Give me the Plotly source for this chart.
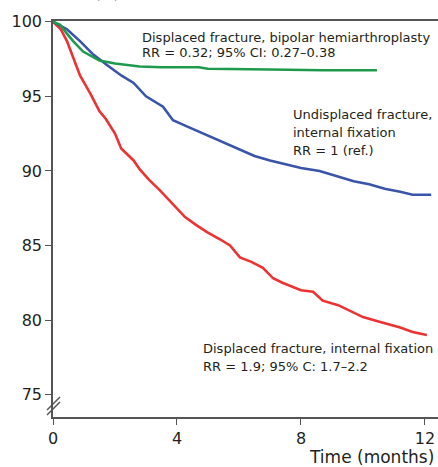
import plotly.graph_objects as go

# Kaplan-Meier style survival curves (months, %)
red_t = [0, 0.1, 0.25, 0.45, 0.65, 0.87, 1.2, 1.5, 1.7, 2.0, 2.2, 2.6, 2.8, 3.1, 3.45, 3.8, 4.26, 4.6,
         4.97, 5.4, 5.71, 6.03, 6.4, 6.77, 7.1, 7.4, 7.74, 8.0, 8.39, 8.7, 9.2, 9.6, 10.0, 10.5, 11.2, 11.6, 12.06]
red_v = [100, 99.8, 99.5, 98.7, 97.6, 96.4, 95.2, 94.0, 93.5, 92.5, 91.5, 90.7, 90.1, 89.4, 88.7, 87.9, 86.9, 86.4,
         85.9, 85.4, 85.0, 84.2, 83.9, 83.5, 82.8, 82.5, 82.2, 82.0, 81.9, 81.3, 81.0, 80.6, 80.2, 79.9, 79.5, 79.2, 79.0]

blue_t = [0, 0.2, 0.45, 0.87, 1.3, 1.74, 2.2, 2.6, 3.0, 3.55, 3.87, 4.3, 4.74, 5.2, 5.6, 6.03, 6.5, 7.0, 7.55,
          8.0, 8.6, 9.2, 9.7, 10.2, 10.7, 11.2, 11.6, 12.2]
blue_v = [100, 99.8, 99.5, 98.7, 97.8, 97.1, 96.4, 95.9, 95.0, 94.3, 93.4, 93.0, 92.6, 92.2, 91.8, 91.4, 91.0, 90.7, 90.4,
          90.2, 90.0, 89.6, 89.3, 89.1, 88.8, 88.6, 88.4, 88.4]

green_t = [0, 0.1, 0.23, 0.45, 0.65, 0.97, 1.3, 1.5, 2.0, 2.8, 3.5, 4.7, 5.0, 6.0, 7.0, 8.7, 9.5, 10.45]
green_v = [100, 99.9, 99.8, 99.2, 98.7, 98.0, 97.6, 97.4, 97.2, 97.0, 96.95, 96.95, 96.85, 96.85, 96.8, 96.75, 96.75, 96.75]

x_ticks = [0, 4, 8, 12]
y_ticks = [75, 80, 85, 90, 95, 100]

RED = "#ec3232"
BLUE = "#3954a8"
GREEN = "#1f9a4c"
TXT = "#231f20"
AX = "#555555"

fig = go.Figure()
fig.add_trace(go.Scatter(x=red_t, y=red_v, mode="lines", line=dict(color=RED, width=2.6), showlegend=False))
fig.add_trace(go.Scatter(x=blue_t, y=blue_v, mode="lines", line=dict(color=BLUE, width=2.6), showlegend=False))
fig.add_trace(go.Scatter(x=green_t, y=green_v, mode="lines", line=dict(color=GREEN, width=2.6), showlegend=False))

FONT = "DejaVu Sans, Liberation Sans, Arial, sans-serif"

fig.update_layout(
    width=438, height=467,
    margin=dict(l=53, r=0, t=21, b=50),
    plot_bgcolor="white", paper_bgcolor="white",
    font=dict(family=FONT, color=TXT, size=16),
    xaxis=dict(range=[0, 12.42], tickvals=x_ticks, ticks="outside", ticklen=6, tickcolor=AX,
               showline=True, linecolor=AX, linewidth=1.5, mirror=True, showgrid=False, zeroline=False,
               tickfont=dict(size=16, color=TXT)),
    yaxis=dict(range=[73.5, 100.05], tickvals=y_ticks, ticks="outside", ticklen=6, tickcolor=AX,
               showline=True, linecolor=AX, linewidth=1.5, showgrid=False, zeroline=False,
               tickfont=dict(size=16, color=TXT)),
)

def px(xp):
    return (xp - 53) / 385.0

def py(yp):
    return (417 - yp) / 396.0

ann = dict(xref="paper", yref="paper", showarrow=False, xanchor="left", yanchor="middle",
           font=dict(size=13, color=TXT, family=FONT), align="left")
fig.add_annotation(text="Displaced fracture, bipolar hemiarthroplasty", x=px(140), y=py(37), **ann)
fig.add_annotation(text="RR = 0.32; 95% CI: 0.27–0.38", x=px(140), y=py(53), **ann)
fig.add_annotation(text="Undisplaced fracture,", x=px(291), y=py(114), **ann)
fig.add_annotation(text="internal fixation", x=px(291), y=py(132), **ann)
fig.add_annotation(text="RR = 1 (ref.)", x=px(291), y=py(150), **ann)
fig.add_annotation(text="Displaced fracture, internal fixation", x=px(201), y=py(348), **ann)
fig.add_annotation(text="RR = 1.9; 95% C: 1.7–2.2", x=px(201), y=py(366), **ann)
fig.add_annotation(text="Time (months)", x=px(436), y=py(457), xref="paper", yref="paper", showarrow=False,
                   xanchor="right", yanchor="middle", font=dict(size=17, color=TXT, family=FONT))
fig.add_annotation(text="Survival (%)", x=px(121), y=py(4), xref="paper", yref="paper", showarrow=False,
                   xanchor="right", yanchor="bottom", font=dict(size=14, color=TXT, family=FONT))

# axis break marks
for off in (0, 5):
    fig.add_shape(type="line", xref="paper", yref="paper",
                  x0=px(47), y0=py(410 + off), x1=px(60), y1=py(397 + off),
                  line=dict(color=AX, width=1.5))

fig.write_html("out.html", config={"displayModeBar": False},
               post_script="document.body.style.margin='0';document.body.style.overflow='hidden';")
